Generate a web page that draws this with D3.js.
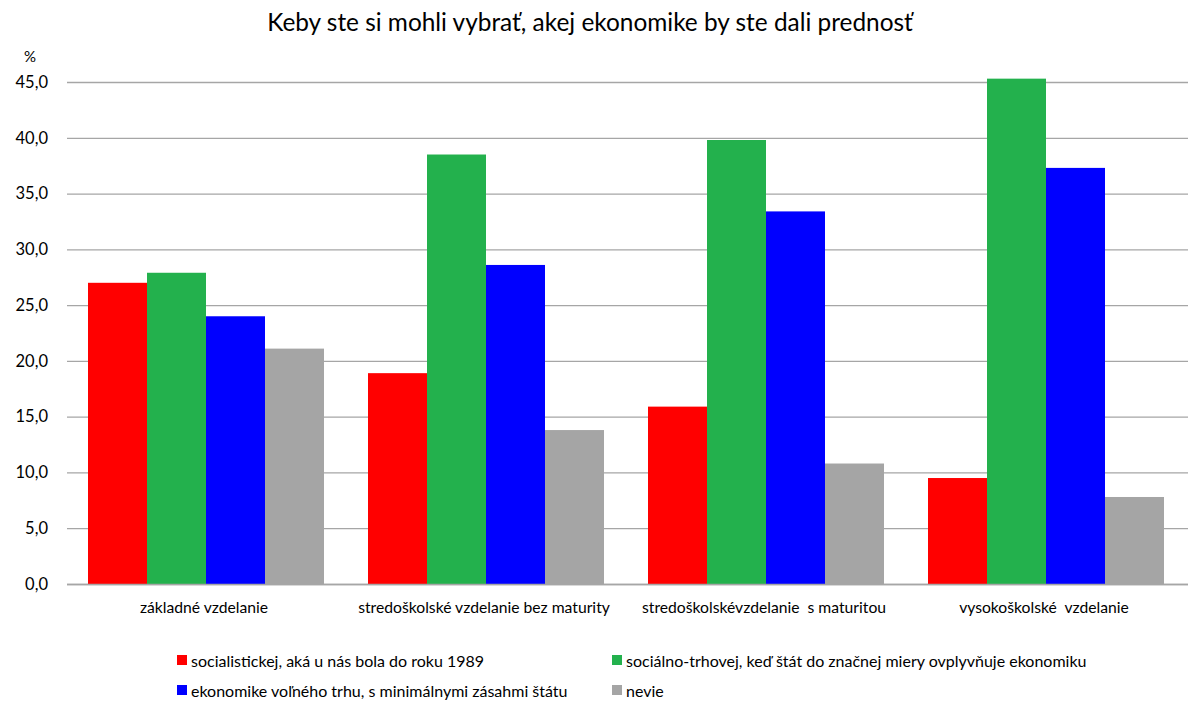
<!DOCTYPE html>
<html><head><meta charset="utf-8">
<script src="https://cdn.jsdelivr.net/npm/d3@7"></script>
<style>body{margin:0;background:#fff}text{font-family:Lato,"Open Sans",sans-serif;fill:#000}</style>
</head><body>
<svg id="c" width="1188" height="702"></svg>
<script>
const title = "Keby ste si mohli vybrať, akej ekonomike by ste dali prednosť";
const categories = ["základné vzdelanie","stredoškolské vzdelanie bez maturity","stredoškolskévzdelanie  s maturitou","vysokoškolské  vzdelanie"];
const seriesNames = ["socialistickej, aká u nás bola do roku 1989","sociálno-trhovej, keď štát do značnej miery ovplyvňuje ekonomiku","ekonomike voľného trhu, s minimálnymi zásahmi štátu","nevie"];
const seriesColors = ["#ff0000","#23b14d","#0000ff","#a5a5a5"];
const socialist = [27.0, 18.9, 15.9, 9.5];
const socialMarket = [27.9, 38.5, 39.8, 45.3];
const freeMarket = [24.0, 28.6, 33.4, 37.3];
const dontKnow = [21.1, 13.8, 10.8, 7.8];
const yTicks = [0,5,10,15,20,25,30,35,40,45];
const series = [socialist, socialMarket, freeMarket, dontKnow];

const svg = d3.select("#c");
const L = 67, R = 1187, T = 82, B = 584;
const x = d3.scaleBand().domain(categories).range([L, R]).paddingInner(0).paddingOuter(0);
const inner = d3.scaleBand().domain(d3.range(4)).range([21, 257]).padding(0);
const y = d3.scaleLinear().domain([0, 45]).range([B, T]);

svg.append("text").attr("x", 590).attr("y", 31).attr("text-anchor", "middle")
  .style("font-size", "24.4px").text(title);

const fmt = v => d3.format(".1f")(v).replace(".", ",");
const yAxis = svg.append("g").attr("transform", `translate(${L},0)`)
  .call(d3.axisLeft(y).tickValues(yTicks).tickFormat(fmt).tickSize(-(R - L + 1)).tickPadding(19));
yAxis.select(".domain").remove();
yAxis.selectAll("line").attr("stroke", "#a6a6a6").attr("stroke-width", 1.3);
yAxis.selectAll("text").style("font-size", "16.5px").attr("fill", "#000");

svg.append("text").attr("x", 24).attr("y", 62).style("font-size", "15px").text("%");

const g = svg.append("g");
series.forEach((vals, si) => {
  g.selectAll(null).data(vals).enter().append("rect")
    .attr("x", (d, i) => x(categories[i]) + inner(si))
    .attr("width", inner.bandwidth())
    .attr("y", d => y(d))
    .attr("height", d => B - y(d))
    .attr("fill", seriesColors[si]);
});

svg.append("line").attr("x1", L).attr("x2", R + 1).attr("y1", B + 0.5).attr("y2", B + 0.5)
  .attr("stroke", "#a6a6a6").attr("stroke-width", 1.3);

const xAxis = svg.append("g").attr("transform", `translate(0,${B})`)
  .call(d3.axisBottom(x).tickSize(0).tickPadding(18));
xAxis.select(".domain").remove();
xAxis.selectAll("text").style("font-size", "15.7px").attr("fill", "#000").attr("dx", "-3")
  .style("white-space", "pre").attr("xml:space", "preserve");

const legendPos = [[177, 667], [612, 667], [177, 697], [612, 697]];
const lg = svg.append("g");
seriesNames.forEach((n, i) => {
  const [lx, ly] = legendPos[i];
  lg.append("rect").attr("x", lx).attr("y", ly - 12).attr("width", 10).attr("height", 10).attr("fill", seriesColors[i]);
  lg.append("text").attr("x", lx + 14).attr("y", ly).style("font-size", "16px").text(n);
});
</script>
</body></html>
